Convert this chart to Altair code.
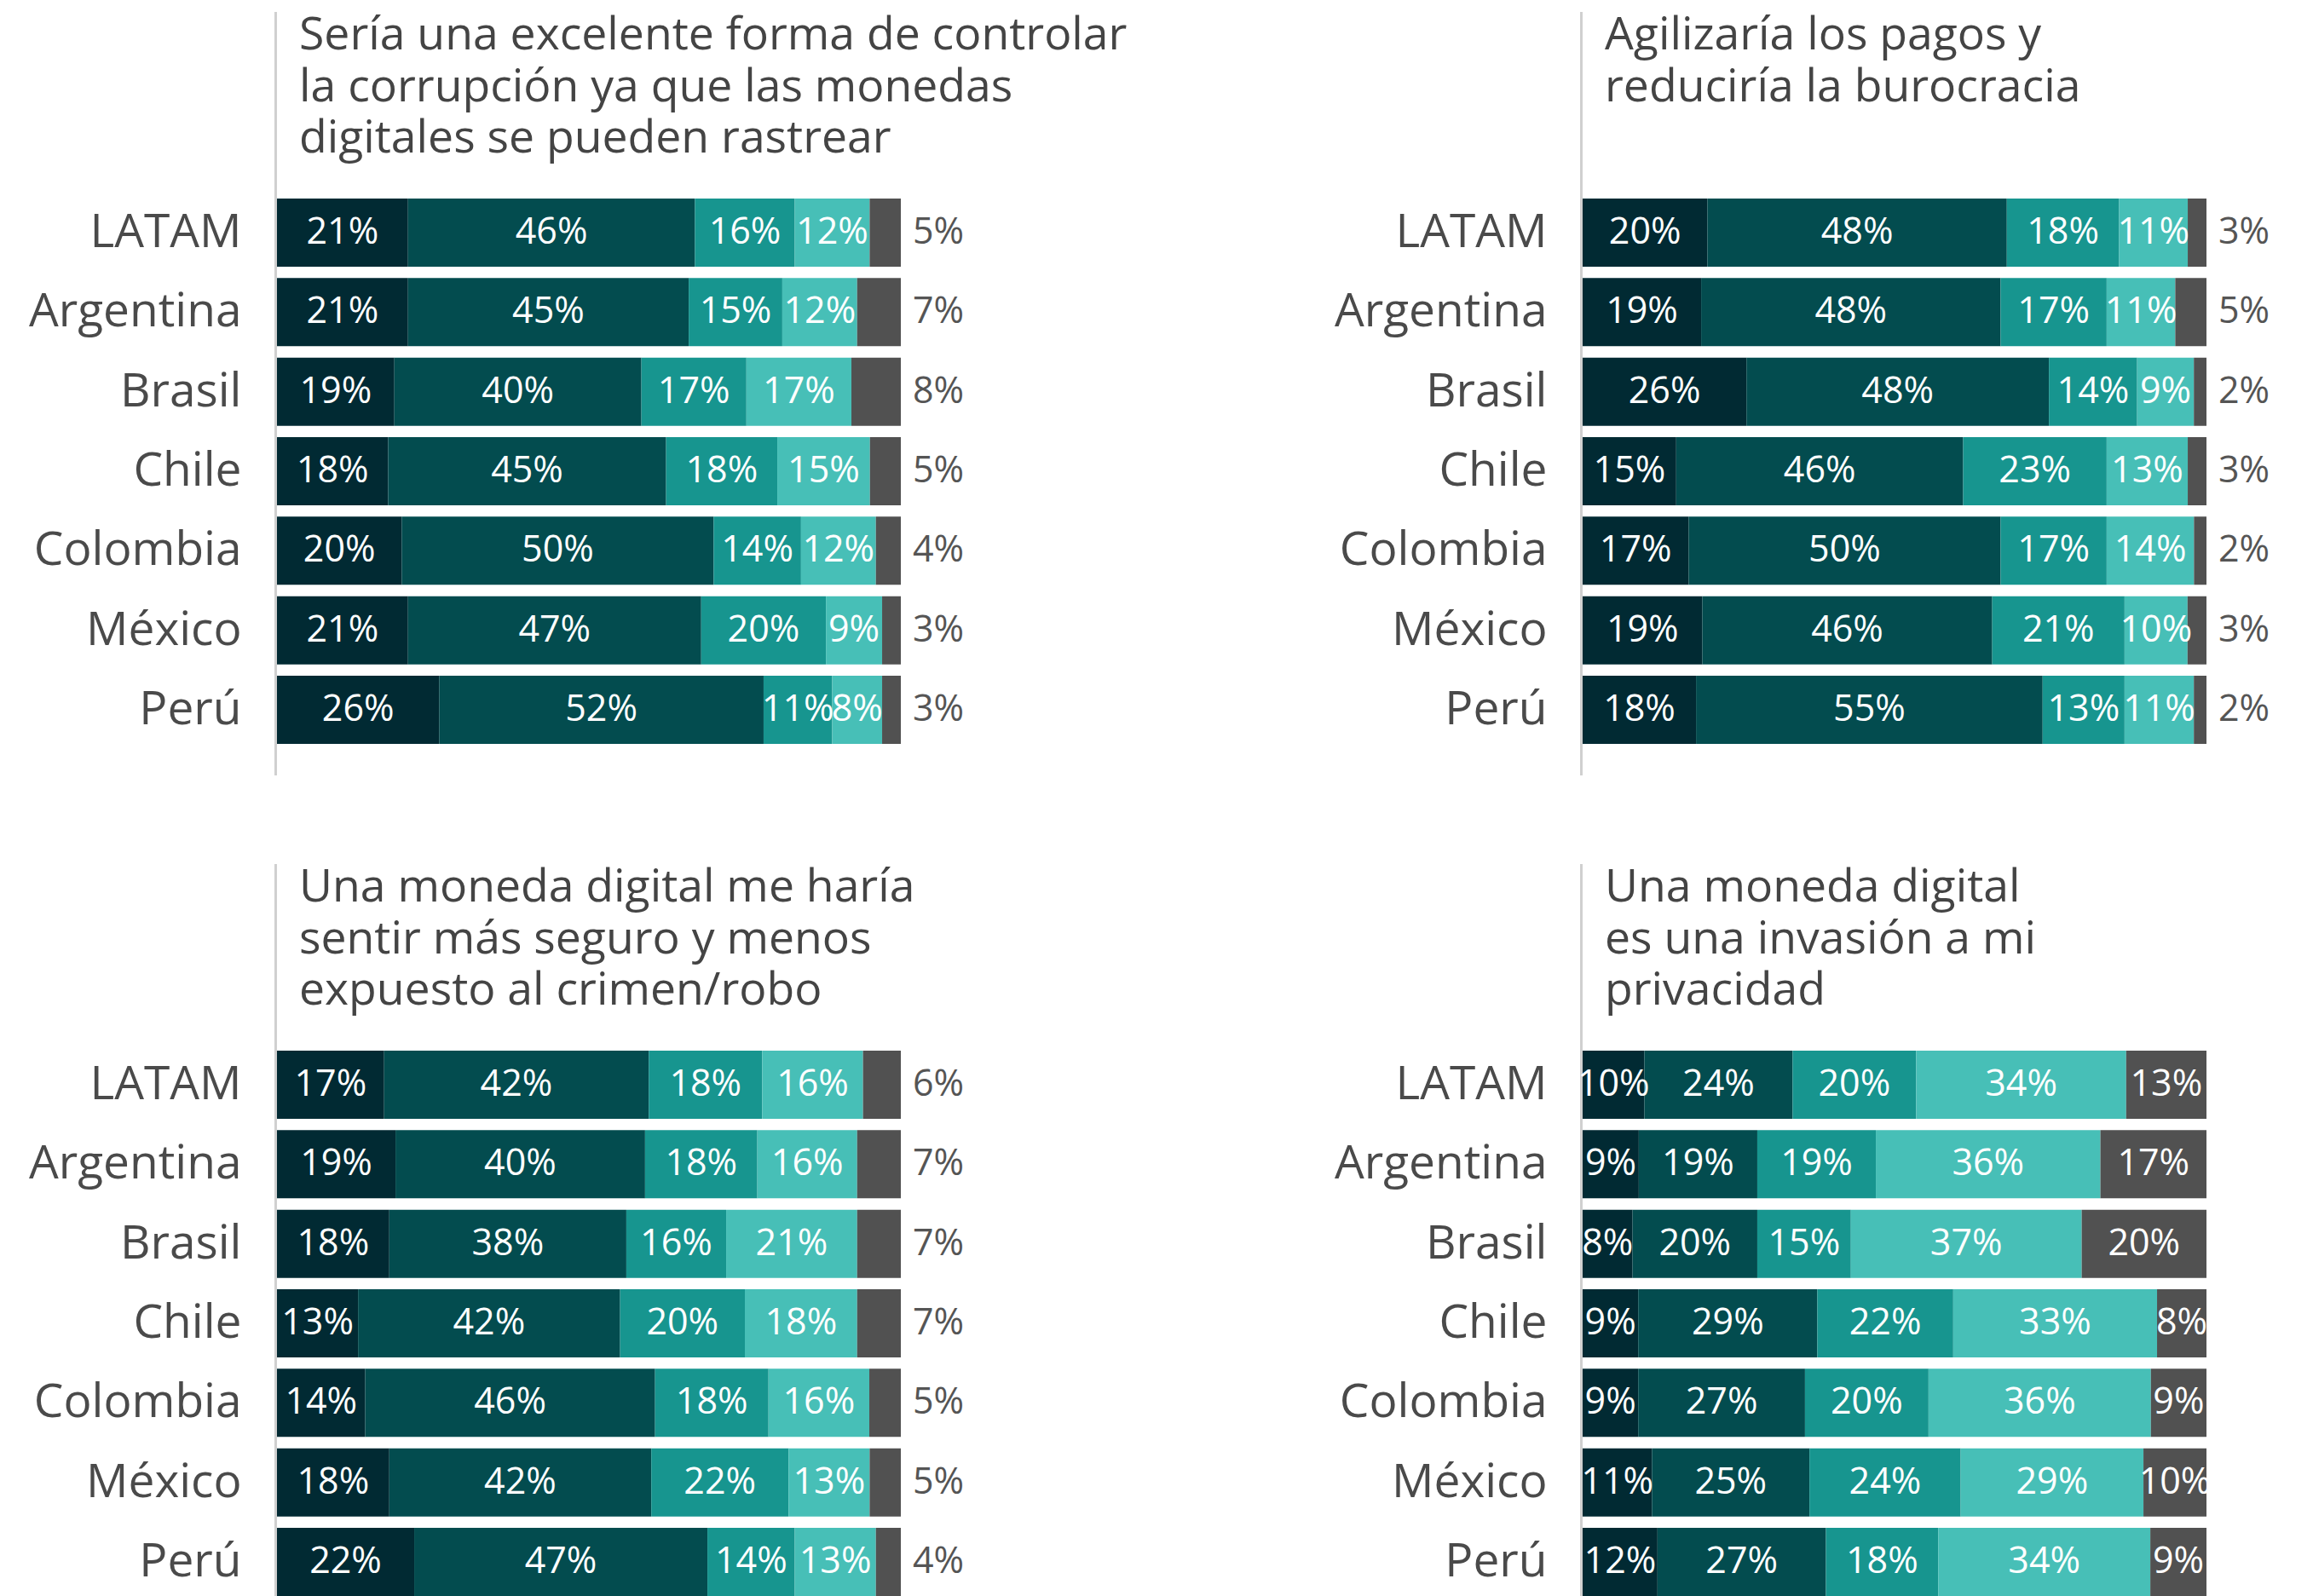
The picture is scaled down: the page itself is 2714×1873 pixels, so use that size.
import altair as alt
import pandas as pd

FONT = "Open Sans"

paises = ["LATAM", "Argentina", "Brasil", "Chile", "Colombia", "México", "Perú"]
categorias = ["Muy de acuerdo", "De acuerdo", "Neutral", "En desacuerdo", "Muy en desacuerdo"]
colores = ["#012A33", "#034C4F", "#17958F", "#47BFB7", "#515151"]

titulo_1 = ["Sería una excelente forma de controlar", "la corrupción ya que las monedas", "digitales se pueden rastrear"]
valores_1 = [
    [21, 46, 16, 12, 5],
    [21, 45, 15, 12, 7],
    [19, 40, 17, 17, 8],
    [18, 45, 18, 15, 5],
    [20, 50, 14, 12, 4],
    [21, 47, 20, 9, 3],
    [26, 52, 11, 8, 3],
]

titulo_2 = ["Agilizaría los pagos y", "reduciría la burocracia"]
valores_2 = [
    [20, 48, 18, 11, 3],
    [19, 48, 17, 11, 5],
    [26, 48, 14, 9, 2],
    [15, 46, 23, 13, 3],
    [17, 50, 17, 14, 2],
    [19, 46, 21, 10, 3],
    [18, 55, 13, 11, 2],
]

titulo_3 = ["Una moneda digital me haría", "sentir más seguro y menos", "expuesto al crimen/robo"]
valores_3 = [
    [17, 42, 18, 16, 6],
    [19, 40, 18, 16, 7],
    [18, 38, 16, 21, 7],
    [13, 42, 20, 18, 7],
    [14, 46, 18, 16, 5],
    [18, 42, 22, 13, 5],
    [22, 47, 14, 13, 4],
]

titulo_4 = ["Una moneda digital", "es una invasión a mi", "privacidad"]
valores_4 = [
    [10, 24, 20, 34, 13],
    [9, 19, 19, 36, 17],
    [8, 20, 15, 37, 20],
    [9, 29, 22, 33, 8],
    [9, 27, 20, 36, 9],
    [11, 25, 24, 29, 10],
    [12, 27, 18, 34, 9],
]

W = 732
H = 896


def panel(valores, titulo, ultimo_fuera):
    rows = []
    for i, p in enumerate(paises):
        for j, c in enumerate(categorias):
            rows.append({"pais": p, "cat": c, "orden": j, "valor": valores[i][j]})
    df = pd.DataFrame(rows)

    base = (
        alt.Chart(df)
        .transform_joinaggregate(total="sum(valor)", groupby=["pais"])
        .transform_calculate(pct="datum.valor / datum.total * 100")
        .transform_stack(
            stack="pct",
            as_=["x0", "x1"],
            groupby=["pais"],
            sort=[alt.SortField(field="orden", order="ascending")],
        )
        .transform_calculate(xm="(datum.x0 + datum.x1) / 2", lab="datum.valor + '%'")
    )

    yscale = alt.Scale(range=[219, 859], paddingInner=0.143, paddingOuter=0)
    yaxis = alt.Axis(
        title=None, domain=False, ticks=False, tickSize=0, labelFontSize=55,
        labelPadding=42, labelColor="#4a4a4a", labelFont=FONT, labelLimit=0,
    )
    xscale = alt.Scale(domain=[0, 100], nice=False, zero=True)

    bars = base.mark_bar().encode(
        x=alt.X("x0:Q", scale=xscale, axis=None),
        x2="x1:Q",
        y=alt.Y("pais:N", sort=paises, scale=yscale, axis=yaxis),
        color=alt.Color("cat:N", scale=alt.Scale(domain=categorias, range=colores), legend=None),
    )

    filtro_dentro = "datum.orden < 4" if ultimo_fuera else "true"
    dentro = base.transform_filter(filtro_dentro).mark_text(
        color="white", fontSize=43, font=FONT, baseline="middle", align="center"
    ).encode(
        x=alt.X("xm:Q", scale=xscale, axis=None),
        y=alt.Y("pais:N", sort=paises),
        text="lab:N",
    )

    capas = [bars, dentro]
    if ultimo_fuera:
        fuera = base.transform_filter("datum.orden == 4").mark_text(
            color="#555555", fontSize=43, font=FONT, baseline="middle", align="left", dx=14
        ).encode(
            x=alt.X("x1:Q", scale=xscale, axis=None),
            y=alt.Y("pais:N", sort=paises),
            text="lab:N",
        )
        capas.append(fuera)

    linea = alt.Chart(pd.DataFrame({"l": [0]})).mark_rule(
        color="#D0D0D0", strokeWidth=3
    ).encode(x=alt.value(-1.5), y=alt.value(0), y2=alt.value(H))

    tit = alt.Chart(pd.DataFrame({"t": ["\n".join(titulo)]})).mark_text(
        align="left", baseline="alphabetic", fontSize=53.5, lineHeight=60.5,
        lineBreak="\n", font=FONT, color="#444444",
    ).encode(x=alt.value(26), y=alt.value(44), text="t:N")

    return alt.layer(linea, tit, *capas).properties(width=W, height=H)


p1 = panel(valores_1, titulo_1, True)
p2 = panel(valores_2, titulo_2, True)
p3 = panel(valores_3, titulo_3, True)
p4 = panel(valores_4, titulo_4, False)

chart = (
    alt.concat(p1, p2, p3, p4, columns=2, spacing={"row": 104, "column": 800}, bounds="flush")
    .properties(padding={"left": 25, "top": 4, "right": 5, "bottom": 5})
    .configure_view(stroke=None)
)

chart.save("out.html", embed_options={"renderer": "svg", "actions": False})
